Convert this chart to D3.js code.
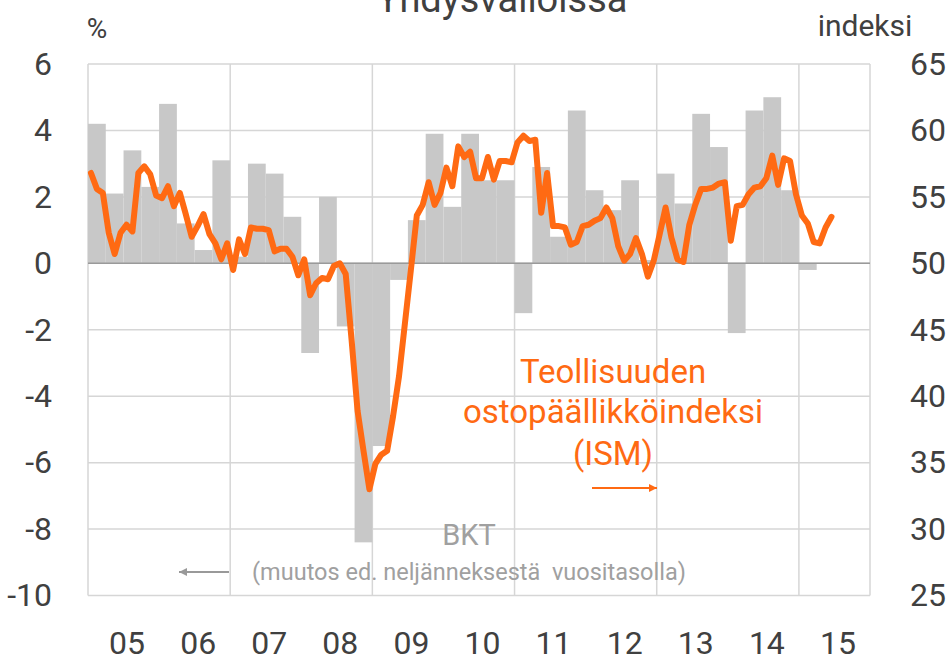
<!DOCTYPE html>
<html>
<head>
<meta charset="utf-8">
<script src="https://cdn.jsdelivr.net/npm/d3@7"></script>
<style>
  body { margin: 0; background: #fff; }
  svg { display: block; font-family: Roboto, "Noto Sans", sans-serif; }
</style>
</head>
<body>
<svg id="chart" width="949" height="661"></svg>
<script>
// ISM and GDP in the US, 2005-2015

const startYear = 2005;
const endYear = 2016;
const yearLabels = ['05', '06', '07', '08', '09', '10', '11', '12', '13', '14', '15'];
const gridYears = [2005, 2007, 2009, 2011, 2013, 2015, 2016];

// GDP, q/q change at annual rate (%), 2005Q1 ... 2015Q1
const gdpQuarterly = [
  4.2, 2.1, 3.4, 2.3,
  4.8, 1.2, 0.4, 3.1,
  0.2, 3.0, 2.7, 1.4,
  -2.7, 2.0, -1.9, -8.4,
  -5.5, -0.5, 1.3, 3.9,
  1.7, 3.9, 2.5, 2.5,
  -1.5, 2.9, 0.8, 4.6,
  2.2, 1.6, 2.5, 0.1,
  2.7, 1.8, 4.5, 3.5,
  -2.1, 4.6, 5.0, 2.2,
  -0.2
];

// ISM manufacturing index, monthly, Jan 2005 ... Jun 2015
const ismMonthly = [
  56.8, 55.6, 55.3, 52.3, 50.7, 52.3, 52.9, 52.4, 56.8, 57.3, 56.7, 55.1,
  54.9, 55.8, 54.3, 55.3, 53.7, 52.0, 52.8, 53.7, 52.2, 51.5, 50.3, 51.5,
  49.5, 51.8, 50.7, 52.7, 52.6, 52.6, 52.5, 50.9, 51.1, 51.1, 50.5, 49.1,
  50.3, 47.6, 48.5, 48.9, 48.8, 49.8, 50.0, 49.2, 44.2, 38.9, 35.9, 33.0,
  34.9, 35.6, 35.9, 38.5, 41.5, 45.5, 49.5, 53.6, 54.4, 56.1, 54.4, 55.3,
  57.2, 55.8, 58.8, 58.0, 58.4, 56.4, 56.4, 58.0, 56.3, 57.7, 57.7, 57.6,
  59.1, 59.6, 59.2, 59.3, 53.8, 56.8, 52.8, 52.8, 52.7, 51.4, 51.6, 52.8,
  52.9, 53.2, 53.4, 54.2, 53.4, 51.3, 50.2, 50.7, 51.9, 50.7, 49.0, 50.2,
  52.2, 54.2, 51.9, 50.3, 50.1, 52.9, 54.4, 55.6, 55.6, 55.7, 56.0, 56.1,
  51.7, 54.3, 54.4, 55.2, 55.7, 55.8, 56.4, 58.1, 55.9, 57.9, 57.7, 55.2,
  53.6, 53.0, 51.6, 51.5, 52.7, 53.5
];

const leftTicks = [-10, -8, -6, -4, -2, 0, 2, 4, 6];
const rightTicks = [25, 30, 35, 40, 45, 50, 55, 60, 65];

const svg = d3.select('#chart');
const plotLeft = 88, plotRight = 870, plotTop = 64, plotBottom = 595.5;

const x = d3.scaleLinear().domain([startYear, endYear]).range([plotLeft, plotRight]);
const yL = d3.scaleLinear().domain([-10, 6]).range([plotBottom, plotTop]);
const yR = d3.scaleLinear().domain([25, 65]).range([plotBottom, plotTop]);

const darkText = '#404040';
const grayText = '#a0a0a0';
const orange = '#ff6a13';

// grid
const grid = svg.append('g');
grid.selectAll('.hgrid')
  .data(leftTicks)
  .enter().append('line')
  .attr('x1', plotLeft).attr('x2', plotRight)
  .attr('y1', d => yL(d)).attr('y2', d => yL(d))
  .attr('stroke', '#d6d6d6')
  .attr('stroke-width', 1.5);
grid.selectAll('.vgrid')
  .data(gridYears)
  .enter().append('line')
  .attr('x1', d => x(d)).attr('x2', d => x(d))
  .attr('y1', plotTop).attr('y2', plotBottom)
  .attr('stroke', '#d6d6d6')
  .attr('stroke-width', 1.5);

// GDP bars
const qw = x(startYear + 0.25) - x(startYear);
svg.append('g')
  .selectAll('rect')
  .data(gdpQuarterly)
  .enter().append('rect')
  .attr('x', (d, i) => x(startYear + i / 4))
  .attr('width', qw)
  .attr('y', d => yL(Math.max(0, d)))
  .attr('height', d => Math.abs(yL(d) - yL(0)))
  .attr('fill', '#c8c8c8');

// zero line
svg.append('line')
  .attr('x1', plotLeft).attr('x2', plotRight)
  .attr('y1', yL(0)).attr('y2', yL(0))
  .attr('stroke', '#9a9a9a')
  .attr('stroke-width', 1.5);

// annotations (behind line)
svg.append('text')
  .attr('x', 469).attr('y', 545)
  .attr('text-anchor', 'middle')
  .style('font-size', '29px')
  .style('fill', grayText)
  .text('BKT');
svg.append('text')
  .attr('x', 469).attr('y', 580)
  .attr('text-anchor', 'middle')
  .style('font-size', '23.5px')
  .style('fill', grayText)
  .style('white-space', 'pre')
  .text('(muutos ed. neljänneksestä  vuositasolla)');

// arrows
const defs = svg.append('defs');
function marker(id, color) {
  defs.append('marker')
    .attr('id', id)
    .attr('viewBox', '0 0 10 10')
    .attr('refX', 10).attr('refY', 5)
    .attr('markerWidth', 8).attr('markerHeight', 8)
    .attr('markerUnits', 'userSpaceOnUse')
    .attr('orient', 'auto')
    .append('path')
    .attr('d', 'M0,0 L10,5 L0,10 z')
    .attr('fill', color);
}
marker('arrow-gray', '#999');
marker('arrow-orange', orange);
svg.append('line')
  .attr('x1', 229).attr('x2', 179)
  .attr('y1', 572).attr('y2', 572)
  .attr('stroke', '#999').attr('stroke-width', 2)
  .attr('marker-end', 'url(#arrow-gray)');
svg.append('line')
  .attr('x1', 592).attr('x2', 657)
  .attr('y1', 488).attr('y2', 488)
  .attr('stroke', orange).attr('stroke-width', 2)
  .attr('marker-end', 'url(#arrow-orange)');

const ismText = svg.append('text')
  .attr('text-anchor', 'middle')
  .style('font-size', '33px')
  .style('fill', orange);
[['Teollisuuden', 383], ['ostopäällikköindeksi', 423], ['(ISM)', 465]].forEach(([t, yy]) => {
  ismText.append('tspan').attr('x', 613).attr('y', yy).text(t);
});

// ISM line
const line = d3.line()
  .x((d, i) => x(startYear + (i + 0.5) / 12))
  .y(d => yR(d));
svg.append('path')
  .datum(ismMonthly)
  .attr('d', line)
  .attr('fill', 'none')
  .attr('stroke', orange)
  .attr('stroke-width', 6)
  .attr('stroke-linejoin', 'round')
  .attr('stroke-linecap', 'round');

// axes (plain hyphen for negatives, as in the original)
const axisLeft = svg.append('g')
  .attr('transform', `translate(${52},0)`)
  .call(d3.axisLeft(yL).tickValues(leftTicks).tickFormat(d => String(d)).tickSize(0).tickPadding(0));
const axisRight = svg.append('g')
  .attr('transform', `translate(${910},0)`)
  .call(d3.axisRight(yR).tickValues(rightTicks).tickFormat(d => String(d)).tickSize(0).tickPadding(0));
const axisBottom = svg.append('g')
  .attr('transform', `translate(0,${631})`)
  .call(d3.axisBottom(d3.scaleLinear().domain([startYear, endYear]).range([plotLeft + 3, plotRight + 3]))
    .tickValues(yearLabels.map((d, i) => startYear + i + 0.5))
    .tickFormat((d, i) => yearLabels[i])
    .tickSize(0).tickPadding(0));
[axisLeft, axisRight, axisBottom].forEach(a => {
  a.select('.domain').remove();
  a.selectAll('text')
    .style('font-family', 'Roboto, "Noto Sans", sans-serif')
    .style('font-size', '32px')
    .style('fill', darkText);
});
axisBottom.selectAll('text').attr('dy', '0.71em');

// unit labels and title
svg.append('text')
  .attr('x', 97).attr('y', 38)
  .attr('text-anchor', 'middle')
  .style('font-size', '28px')
  .style('fill', darkText)
  .text('%');
svg.append('text')
  .attr('x', 865).attr('y', 36)
  .attr('text-anchor', 'middle')
  .style('font-size', '30px')
  .style('fill', darkText)
  .text('indeksi');
svg.append('text')
  .attr('x', 502).attr('y', 12)
  .attr('text-anchor', 'middle')
  .style('font-size', '38px')
  .style('fill', darkText)
  .text('Yhdysvalloissa');
</script>
</body>
</html>
